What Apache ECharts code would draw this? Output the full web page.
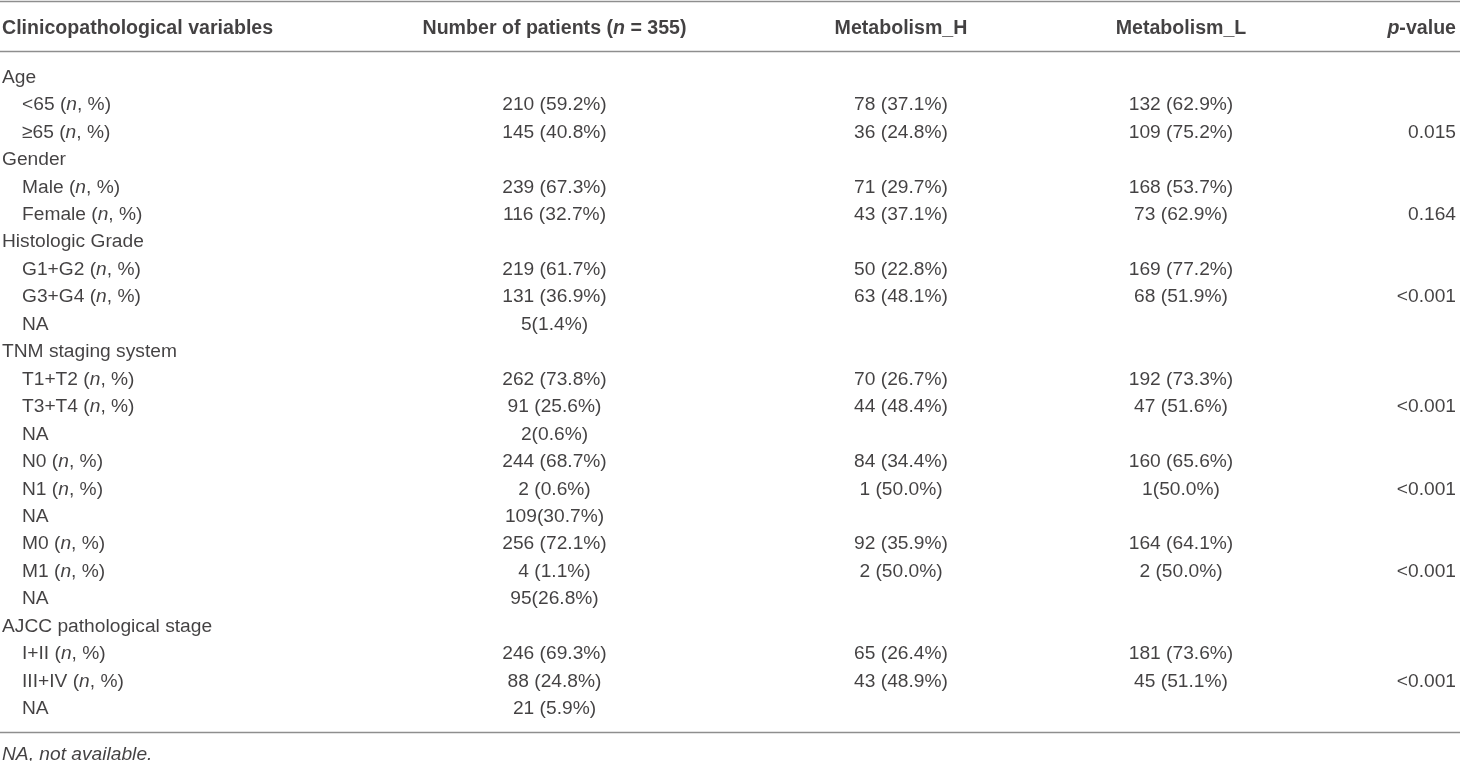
<!DOCTYPE html>
<html>
<head>
<meta charset="utf-8">
<title>Clinicopathological variables</title>
<script src="https://cdn.jsdelivr.net/npm/echarts@6/dist/echarts.min.js"></script>
<style>
	html, body { margin: 0; padding: 0; background: #fff; }
	#table1 { width: 1460px; height: 761px; }
</style>
</head>
<body>
<div id="table1"></div>
<script>
// table content
var headers = ['Clinicopathological variables', 'Number of patients (n = 355)', 'Metabolism_H', 'Metabolism_L', 'p-value'];

var variables = ['Age', '<65 (n, %)', '≥65 (n, %)',
	'Gender', 'Male (n, %)', 'Female (n, %)',
	'Histologic Grade', 'G1+G2 (n, %)', 'G3+G4 (n, %)', 'NA',
	'TNM staging system', 'T1+T2 (n, %)', 'T3+T4 (n, %)', 'NA',
	'N0 (n, %)', 'N1 (n, %)', 'NA',
	'M0 (n, %)', 'M1 (n, %)', 'NA',
	'AJCC pathological stage', 'I+II (n, %)', 'III+IV (n, %)', 'NA'];

var patients = ['', '210 (59.2%)', '145 (40.8%)',
	'', '239 (67.3%)', '116 (32.7%)',
	'', '219 (61.7%)', '131 (36.9%)', '5(1.4%)',
	'', '262 (73.8%)', '91 (25.6%)', '2(0.6%)',
	'244 (68.7%)', '2 (0.6%)', '109(30.7%)',
	'256 (72.1%)', '4 (1.1%)', '95(26.8%)',
	'', '246 (69.3%)', '88 (24.8%)', '21 (5.9%)'];

var metabolismH = ['', '78 (37.1%)', '36 (24.8%)',
	'', '71 (29.7%)', '43 (37.1%)',
	'', '50 (22.8%)', '63 (48.1%)', '',
	'', '70 (26.7%)', '44 (48.4%)', '',
	'84 (34.4%)', '1 (50.0%)', '',
	'92 (35.9%)', '2 (50.0%)', '',
	'', '65 (26.4%)', '43 (48.9%)', ''];

var metabolismL = ['', '132 (62.9%)', '109 (75.2%)',
	'', '168 (53.7%)', '73 (62.9%)',
	'', '169 (77.2%)', '68 (51.9%)', '',
	'', '192 (73.3%)', '47 (51.6%)', '',
	'160 (65.6%)', '1(50.0%)', '',
	'164 (64.1%)', '2 (50.0%)', '',
	'', '181 (73.6%)', '45 (51.1%)', ''];

var pValues = ['', '', '0.015',
	'', '', '0.164',
	'', '', '<0.001', '',
	'', '', '<0.001', '',
	'', '<0.001', '',
	'', '<0.001', '',
	'', '', '<0.001', ''];

var footnote = 'NA, not available.';

// layout (x in px, y in row units)
var colX = [2, 554.5, 901, 1181, 1456];
var indentX = 22;
var colAlign = ['left', 'center', 'center', 'center', 'right'];
var headerY = -1.785;
var ruleY = [-2.735, -0.92, 23.9];
var footY = 24.66;

var FONT = "'Liberation Sans', Arial, sans-serif";
var TEXT_COLOR = '#141213';

function richText(txt){
	// italic "n" and "p" as in the original
	return txt.replace('(n,', '({i|n},').replace('(n =', '({i|n} =').replace(/^p-/, '{i|p}-');
}

function cellSeries(name, data, align, head){
	return {
		name: name,
		type: 'scatter',
		symbolSize: 0,
		silent: true,
		data: data,
		label: {
			show: true,
			position: [0, 0],
			offset: [0, 1.5],
			align: align,
			verticalAlign: 'middle',
			fontFamily: FONT,
			fontSize: head ? 19.6 : 19.2,
			fontWeight: head ? 'bold' : 'normal',
			color: TEXT_COLOR,
			formatter: function(p){ return richText(p.value[2]); },
			rich: {
				i: {
					fontFamily: FONT,
					fontSize: head ? 19.6 : 19.2,
					fontStyle: 'italic',
					fontWeight: head ? 'bold' : 'normal',
					color: TEXT_COLOR
				}
			}
		}
	};
}

function createTable(){
	var myChart = echarts.init(document.getElementById('table1'));
	window.addEventListener("resize", function () {
		myChart.resize();
	});

	var columns = [variables, patients, metabolismH, metabolismL, pValues];
	var series = [];

	// header row
	for(var c=0;c<headers.length;c++){
		series.push(cellSeries('head' + c, [[colX[c], headerY, headers[c]]], colAlign[c], true));
	}

	// body cells
	for(var c=0;c<columns.length;c++){
		var data = [];
		for(var i=0;i<columns[c].length;i++){
			if(columns[c][i]=='') continue;
			var x = colX[c];
			if(c==0 && patients[i]!='') x = indentX; // sub rows are indented
			data.push([x, i, columns[c][i]]);
		}
		series.push(cellSeries('col' + c, data, colAlign[c], false));
	}

	// footnote
	var foot = cellSeries('foot', [[colX[0], footY, footnote]], 'left', false);
	foot.label.fontStyle = 'italic';
	series.push(foot);

	// horizontal rules
	series.push({
		type: 'line',
		data: [],
		silent: true,
		markLine: {
			silent: true,
			symbol: ['none', 'none'],
			label: { show: false },
			lineStyle: { color: '#8e8e8e', width: 1.4, type: 'solid' },
			data: ruleY.map(function(v){ return { yAxis: v }; })
		}
	});

	var option = {
		animation: false,
		grid: { left: 0, right: 0, top: 0, bottom: 0 },
		xAxis: { type: 'value', min: 0, max: 1460, show: false },
		yAxis: { type: 'value', inverse: true, min: -2.769, max: 24.955, show: false },
		series: series
	};
	myChart.setOption(option);
}

createTable();
</script>
</body>
</html>
